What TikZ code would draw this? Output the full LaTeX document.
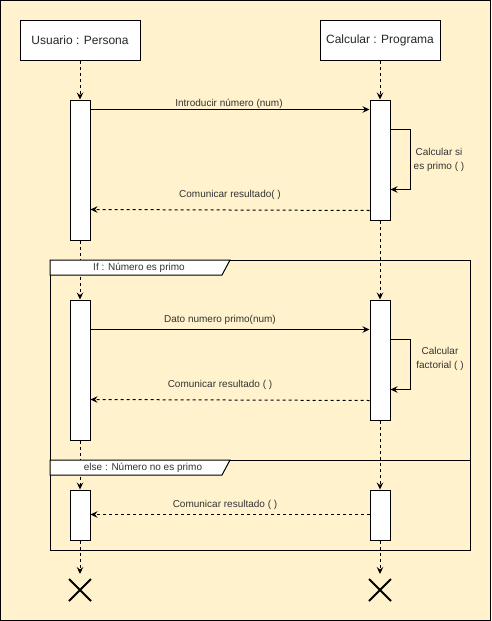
\documentclass[tikz,border=0pt]{standalone}
\usepackage{fontspec}
\setmainfont{Liberation Sans}
\usetikzlibrary{arrows.meta,calc,shapes.misc}
\definecolor{bgyellow}{HTML}{FFF2CC}
\definecolor{txt}{HTML}{333333}
\begin{document}
\begin{tikzpicture}[x=1pt,y=-1pt,line width=1pt,
  tip/.style={-{Stealth[length=7pt,width=6.5pt,inset=2.5pt]}},
  actor/.style={draw,fill=white,minimum width=120pt,minimum height=40pt,inner sep=0pt,font=\fontsize{12}{14}\selectfont,text=black!85},
  actbox/.style={draw,fill=white,minimum width=20pt,inner sep=0pt},
  life/.style={tip,dashed,dash pattern=on 3pt off 3pt},
  msg/.style={tip},
  ret/.style={tip,dash pattern=on 3pt off 3pt},
  lbl/.style={font=\fontsize{10}{14}\selectfont,text=txt,align=center,inner sep=0pt},
  xmark/.style={cross out,draw,line width=2pt,minimum size=20pt,inner sep=0pt},
  tabbox/.style={draw,fill=white}
]
\useasboundingbox (0,0) rectangle (491,621);
\draw[fill=bgyellow] (0.5,0.5) rectangle (490.5,620.5);

% actors
\node[actor] (u) at (80,40) {Usuario : Persona};
\node[actor] (c) at (380,40) {Calcular : Programa};

% activation boxes
\node[actbox,minimum height=140pt] (u1) at (80,170) {};
\node[actbox,minimum height=120pt] (c1) at (380,160) {};
\node[actbox,minimum height=140pt] (u2) at (80,370) {};
\node[actbox,minimum height=120pt] (c2) at (380,360) {};
\node[actbox,minimum height=50pt] (u3) at (80,515) {};
\node[actbox,minimum height=50pt] (c3) at (380,515) {};

% end markers
\node[xmark] (xu) at (80,590) {};
\node[xmark] (xc) at (380,590) {};

% lifelines
\draw[life] (u.south) -- (u1.north);
\draw[life] (c.south) -- (c1.north);
\draw[life] (u1.south) -- (u2.north);
\draw[life] (c1.south) -- (c2.north);
\draw[life] (u2.south) -- (u3.north);
\draw[life] (c2.south) -- (c3.north);
\draw[life,shorten >=5pt] (u3.south) -- (xu.north);
\draw[life,shorten >=5pt] (c3.south) -- (xc.north);

% first block
\draw[msg] ($(u1.north east)+(0,10)$) -- ($(c1.north west)+(0,10)$);
\node[lbl] at (229,104) {Introducir número (num)};
\draw[msg] ($(c1.north east)+(0,30)$) -- ++(20,0) -- ++(0,60) -- ++(-20,0);
\node[lbl] at (439,160) {Calcular si\\es primo ( )};
\draw[ret] ($(c1.south west)+(0,-10)$) -- ($(u1.north east)+(0,110)$);
\node[lbl] at (230,195) {Comunicar resultado( )};

% frame
\draw (50,260) rectangle (470,550);
\draw[tabbox] (50,260) -- (230,260) -- (222,275) -- (50,275) -- cycle;
\node[lbl] at (139,267.5) {If : Número es primo};
\draw (50,460) -- (470,460);
\draw[tabbox] (50,460) -- (230,460) -- (222,475) -- (50,475) -- cycle;
\node[lbl] at (143,467.5) {else : Número no es primo};

% second block
\draw[msg] ($(u2.north east)+(0,30)$) -- ($(c2.north west)+(0,30)$);
\node[lbl] at (220,320) {Dato numero primo(num)};
\draw[msg] ($(c2.north east)+(0,40)$) -- ++(20,0) -- ++(0,50) -- ++(-20,0);
\node[lbl] at (440,359) {Calcular\\factorial ( )};
\draw[ret] ($(c2.south west)+(0,-20)$) -- ($(u2.north east)+(0,100)$);
\node[lbl] at (220,385) {Comunicar resultado ( )};

% third block
\draw[ret] ($(c3.north west)+(0,25)$) -- ($(u3.north east)+(0,25)$);
\node[lbl] at (225,505) {Comunicar resultado ( )};
\end{tikzpicture}
\end{document}
